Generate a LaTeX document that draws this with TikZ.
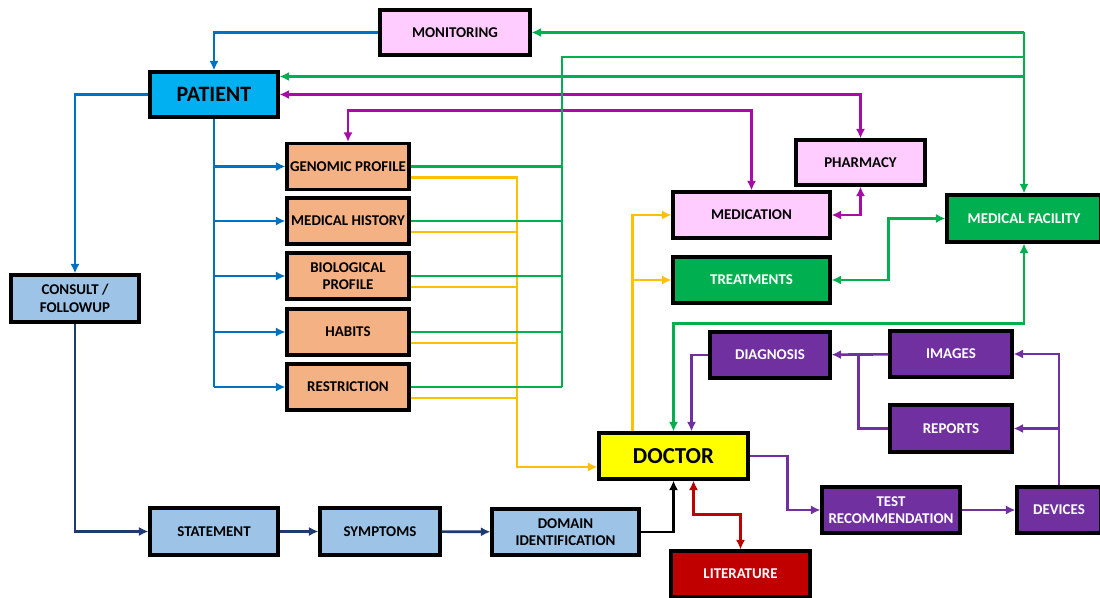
\documentclass[tikz,border=0pt]{standalone}
\usepackage{fontspec}
\setmainfont{Carlito}
\usetikzlibrary{arrows,arrows.meta,positioning,calc}

\definecolor{pinkfill}{HTML}{FFCCFF}
\definecolor{patfill}{HTML}{00B0F0}
\definecolor{orgfill}{HTML}{F4B183}
\definecolor{lbfill}{HTML}{9DC3E6}
\definecolor{docfill}{HTML}{FFFF00}
\definecolor{redfill}{HTML}{C00000}
\definecolor{grnfill}{HTML}{00B050}
\definecolor{purfill}{HTML}{7030A0}
\definecolor{bluecol}{HTML}{0070C0}
\definecolor{navycol}{HTML}{1F3A6E}
\definecolor{ylwcol}{HTML}{FFC000}
\definecolor{mgtcol}{HTML}{A80CA8}

\tikzset{
  box/.style={rectangle, draw, line width=1.8pt, align=center, inner sep=1pt,
    minimum height=0.92cm, font=\fontsize{8.5}{10}\selectfont\bfseries},
  darkbox/.style={box, text=white},
  blueln/.style={draw=bluecol, line width=1.5pt},
  navyln/.style={draw=navycol, line width=1.5pt},
  blackln/.style={draw=black, line width=1.5pt},
  redln/.style={draw=redfill, line width=1.5pt},
  purln/.style={draw=purfill, line width=1.5pt},
  grnln/.style={draw=grnfill, line width=1.5pt},
  ylwln/.style={draw=ylwcol, line width=1.5pt},
  mgtln/.style={draw=mgtcol, line width=1.5pt}
}

\begin{document}
\begin{tikzpicture}[x=0.02cm, y=-0.02cm, >={Latex[length=5.4pt,width=5.2pt]}]
  \useasboundingbox (0,0) rectangle (1100,598);

  % patient side
  \node[box, fill=pinkfill, minimum width=3cm, minimum height=0.9cm] (mon) at (455,32.5) {MONITORING};
  \node[box, fill=patfill, minimum width=2.56cm, minimum height=0.9cm,
        font=\fontsize{12.5}{14}\selectfont\bfseries] (pat) at (214,94.5) {PATIENT};
  \node[box, fill=orgfill, minimum width=2.44cm] (gen) at (348,166.5) {GENOMIC PROFILE};
  \node[box, fill=orgfill, minimum width=2.44cm] (hist) at (348,221) {MEDICAL HISTORY};
  \node[box, fill=orgfill, minimum width=2.44cm] (bio) at (348,276) {BIOLOGICAL\\PROFILE};
  \node[box, fill=orgfill, minimum width=2.44cm] (hab) at (348,332) {HABITS};
  \node[box, fill=orgfill, minimum width=2.44cm] (rst) at (348,387) {RESTRICTION};
  \node[box, fill=lbfill, minimum width=2.56cm, minimum height=0.94cm] (cons) at (75,298.5) {CONSULT /\\FOLLOWUP};
  \node[box, fill=lbfill, minimum width=2.56cm, minimum height=0.94cm] (stat) at (214,531.5) {STATEMENT};
  \node[box, fill=lbfill, minimum width=2.4cm, minimum height=0.94cm] (symp) at (380,531.5) {SYMPTOMS};
  \node[box, fill=lbfill, minimum width=2.94cm] (dom) at (565.5,532) {DOMAIN\\IDENTIFICATION};

  % doctor side
  \node[box, fill=docfill, minimum width=2.98cm,
        font=\fontsize{13}{15}\selectfont\bfseries] (doc) at (673.5,456) {DOCTOR};
  \node[darkbox, fill=redfill, minimum width=2.78cm] (lit) at (740.5,574) {LITERATURE};
  \node[box, fill=pinkfill, minimum width=3.14cm] (med) at (751.5,215) {MEDICATION};
  \node[darkbox, fill=grnfill, minimum width=3.14cm] (trt) at (751.5,280) {TREATMENTS};
  \node[box, fill=pinkfill, minimum width=2.58cm, minimum height=0.9cm] (phar) at (860.5,162.5) {PHARMACY};
  \node[darkbox, fill=grnfill, minimum width=3.08cm, minimum height=0.94cm] (mf) at (1024,218.5) {MEDICAL FACILITY};
  \node[darkbox, fill=purfill, minimum width=2.4cm] (diag) at (770,355) {DIAGNOSIS};
  \node[darkbox, fill=purfill, minimum width=2.44cm] (img) at (951,354) {IMAGES};
  \node[darkbox, fill=purfill, minimum width=2.44cm, minimum height=0.94cm] (rep) at (951,428.5) {REPORTS};
  \node[darkbox, fill=purfill, minimum width=2.76cm] (tst) at (891,510) {TEST\\RECOMMENDATION};
  \node[darkbox, fill=purfill, minimum width=1.68cm] (dev) at (1059,510) {DEVICES};

  % blue
  \draw[blueln,->] (mon.west) -| (pat.north);
  \draw[blueln,->] (pat.west) -| (cons.north);
  \draw[blueln] (pat.south) -- (pat.south |- rst.west);
  \foreach \n in {gen,hist,bio,hab,rst}
    \draw[blueln,->] (pat.south |- \n.west) -- (\n.west);

  % navy and black
  \draw[navyln,->] (cons.south) |- (stat.west);
  \draw[navyln,->] (stat) -- (symp);
  \draw[navyln,->] (symp) -- (dom);
  \draw[blackln,->] (dom.east) -| (doc.south);

  % red
  \draw[redln,<->] ($(doc.south)+(20,0)$) |- ($(lit.north)+(0,-35)$) -- (lit.north);

  % purple
  \draw[purln,->] (doc.east) -- ++(38,0) |- (tst.west);
  \draw[purln,->] (tst) -- (dev);
  \draw[purln,->] (dev.north) |- (img.east);
  \draw[purln,->] (dev.north |- rep.east) -- (rep.east);
  \draw[purln,->] (img) -- (diag);
  \draw[purln] (rep.west) -| ($(img.west)+(-30,0)$);
  \draw[purln,->] (diag.west) -| ($(doc.north)+(18,0)$);

  % yellow
  \coordinate (ycol) at (517,178);
  \coordinate (ydoc) at ($(doc.west)+(0,11)$);
  \coordinate (ytop) at ($(doc.north)+(-41,0)$);
  \draw[ylwln,->] ($(gen.east)+(0,11)$) -| (ycol |- ydoc) -- (ydoc);
  \foreach \n in {hist,bio,hab,rst}
    \draw[ylwln] ($(\n.east)+(0,11)$) -- (ycol |- {$(\n.east)+(0,11)$});
  \draw[ylwln,->] (ytop) |- (med.west);
  \draw[ylwln,->] (ytop |- trt.west) -- (trt.west);

  % magenta
  \draw[mgtln,<->] (pat.east) -| (phar.north);
  \draw[mgtln,<->] (gen.north) |- ($(med.north)+(0,-80)$) -- (med.north);
  \draw[mgtln,<->] (med.east) -| (phar.south);

  % green
  \coordinate (gtop) at (mf.north |- mon.east);
  \coordinate (gcol) at (562,57);
  \draw[grnln,->] (gtop) -- (mon.east);
  \draw[grnln,->] (gtop) -- (mf.north);
  \draw[grnln,->] (gtop |- {$(pat.east)+(0,-18)$}) -- ($(pat.east)+(0,-18)$);
  \draw[grnln] (gtop |- gcol) -- (gcol) -- (gcol |- rst.east);
  \foreach \n in {gen,hist,bio,hab,rst}
    \draw[grnln] (\n.east) -- (gcol |- \n.east);
  \draw[grnln,<->] (doc.north) |- ($(mf.south)+(0,80)$) -- (mf.south);
  \draw[grnln,<->] (trt.east) -| ($(trt.east)!.5!(mf.west)$) |- (mf.west);
\end{tikzpicture}
\end{document}
